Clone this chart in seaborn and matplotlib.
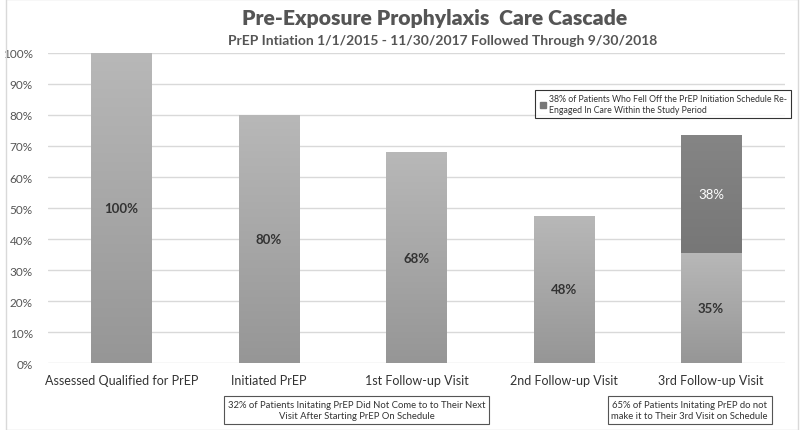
import numpy as np
import pandas as pd
import seaborn as sns
import matplotlib.pyplot as plt
from matplotlib.colors import LinearSegmentedColormap
from matplotlib.lines import Line2D

# ---------------------------
# Data
# ---------------------------
stages = ['Assessed Qualified for PrEP', 'Initiated PrEP', '1st Follow-up Visit',
          '2nd Follow-up Visit', '3rd Follow-up Visit']
on_schedule = [100, 80, 68, 47.5, 35.5]
reengaged = [0, 0, 0, 0, 38]
on_labels = ['100%', '80%', '68%', '48%', '35%']
re_labels = ['', '', '', '', '38%']

legend_text = ('38% of Patients Who Fell Off the PrEP Initiation Schedule Re-\n'
               'Engaged In Care Within the Study Period')
note_1 = ('32% of Patients Initating PrEP Did Not Come to to Their Next\n'
          'Visit After Starting PrEP On Schedule')
note_2 = ('65% of Patients Initating PrEP do not\n'
          'make it to Their 3rd Visit on Schedule')

df = pd.DataFrame({'stage': stages, 'on': on_schedule, 're': reengaged})
df['total'] = df['on'] + df['re']

# ---------------------------
# Style
# ---------------------------
sns.set_theme(style='white')
plt.rcParams['font.family'] = ['Lato', 'DejaVu Sans']

fig = plt.figure(figsize=(8, 4.31), dpi=100)
ax = fig.add_axes([0.06, 0.155, 0.921, 0.72])

light = LinearSegmentedColormap.from_list('light', ['#969696', '#b8b8b8'])
dark = LinearSegmentedColormap.from_list('dark', ['#6a6a6a', '#858585'])

# stacked: total (dark) first, then the on-schedule part over it
sns.barplot(data=df, x='stage', y='total', color='#777777', width=0.41,
            saturation=1, ax=ax)
n_dark = len(ax.patches)
sns.barplot(data=df, x='stage', y='on', color='#a6a6a6', width=0.41,
            saturation=1, ax=ax)

grad = np.linspace(0, 1, 256).reshape(-1, 1)
for i, p in enumerate(ax.patches):
    if p.get_height() <= 0:
        continue
    x0, y0 = p.get_x(), p.get_y()
    x1, y1 = x0 + p.get_width(), y0 + p.get_height()
    cmap = dark if i < n_dark else light
    im = ax.imshow(grad, cmap=cmap, extent=[x0, x1, y0, y1], origin='lower',
                   aspect='auto', zorder=p.get_zorder())
    im.set_clip_path(p)
    p.set_facecolor('none')
    p.set_edgecolor('none')

# labels
for i in range(len(stages)):
    ax.text(i, on_schedule[i] / 2, on_labels[i], ha='center', va='center',
            fontsize=9.5, fontweight='bold', color='#333333', zorder=5)
    if reengaged[i] > 0:
        ax.text(i, on_schedule[i] + reengaged[i] / 2, re_labels[i], ha='center',
                va='center', fontsize=9.5, color='white', zorder=5)

ax.set_xlim(-0.5, len(stages) - 0.5)
ax.set_ylim(0, 100)
ax.set_yticks(np.arange(0, 101, 10))
ax.set_yticklabels([f'{v}%' for v in range(0, 101, 10)])
ax.yaxis.grid(True, color='#d9d9d9', linewidth=1)
ax.set_axisbelow(True)
for s in ax.spines.values():
    s.set_visible(False)
ax.tick_params(axis='y', labelsize=8.5, labelcolor='#555555', length=0, pad=11)
ax.tick_params(axis='x', labelsize=9, labelcolor='#333333', length=0, pad=8)
ax.set_xlabel('')
ax.set_ylabel('')

# titles
fig.text(0.543, 0.958, 'Pre-Exposure Prophylaxis  Care Cascade', ha='center',
         va='center', fontsize=15.2, fontweight='heavy', color='#555555')
fig.text(0.553, 0.905, 'PrEP Intiation 1/1/2015 - 11/30/2017 Followed Through 9/30/2018',
         ha='center', va='center', fontsize=10, fontweight='bold', color='#555555')

# legend
handle = Line2D([], [], marker='s', linestyle='none', markersize=5,
                markerfacecolor='#777777', markeredgecolor='#777777')
leg = fig.legend([handle], [legend_text], loc='upper right',
                 bbox_to_anchor=(0.994, 0.798), fontsize=6.3, frameon=True,
                 fancybox=False, handlelength=0.8, handletextpad=0.3,
                 borderpad=0.45, labelcolor='#333333')
leg.get_frame().set_edgecolor('black')
leg.get_frame().set_linewidth(0.8)

# notes
box = dict(boxstyle='square,pad=0.4', facecolor='white', edgecolor='#555555',
           linewidth=0.8)
fig.text(0.446, 0.047, note_1, ha='center', va='center', fontsize=6.8,
         color='#333333', bbox=box, linespacing=1.3)
fig.text(0.862, 0.047, note_2, ha='center', va='center', fontsize=6.8,
         color='#333333', bbox=box, linespacing=1.3)

# figure border
fig.patches.append(plt.Rectangle((0.008, 0), 0.99, 1.0, transform=fig.transFigure,
                                 fill=False, edgecolor='#d9d9d9', linewidth=1))

plt.savefig('out.png', dpi=100)
